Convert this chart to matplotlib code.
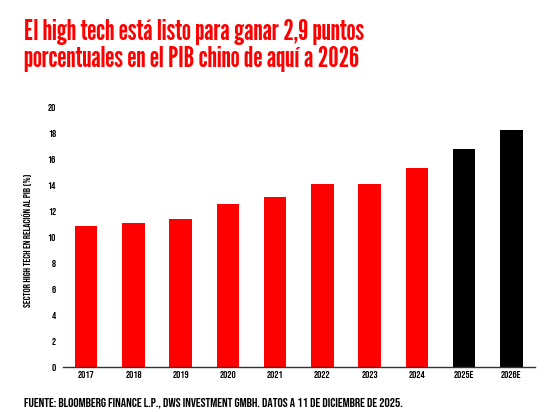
import matplotlib
matplotlib.use("Agg")
import matplotlib.pyplot as plt

# datos
years = ['2017', '2018', '2019', '2020', '2021', '2022', '2023', '2024', '2025E', '2026E']
share_pct = [10.85, 11.05, 11.4, 12.55, 13.05, 14.05, 14.05, 15.3, 16.75, 18.25]
is_estimate = [False] * 8 + [True] * 2
y_ticks = [0, 2, 4, 6, 8, 10, 12, 14, 16, 18, 20]

title_text = "El high tech está listo para ganar 2,9 puntos\nporcentuales en el PIB chino de aquí a 2026"
ylabel_text = "SECTOR HIGH TECH EN RELACIÓN AL PIB (%)"
source_text = "FUENTE: BLOOMBERG FINANCE L.P., DWS INVESTMENT GMBH. DATOS A 11 DE DICIEMBRE DE 2025."

red = '#ff0000'
title_font = ['League Gothic', 'Antonio', 'DejaVu Sans']
label_font = ['Bebas Neue', 'DejaVu Sans']
plt.rcParams['font.family'] = label_font

fig = plt.figure(figsize=(5.45, 4.12), dpi=100)
ax = fig.add_axes([0.1156, 0.109, 0.866, 0.631])

colors = ['#000000' if e else red for e in is_estimate]
x = list(range(len(years)))
ax.bar(x, share_pct, width=0.48, color=colors, zorder=2)

ax.set_xlim(-0.49, 9.5)
ax.set_ylim(0, 20)
ax.set_yticks(y_ticks)
ax.set_xticks(x)
ax.set_xticklabels(years)
ax.tick_params(axis='both', length=0, labelsize=7.5)
ax.tick_params(axis='y', pad=5)
ax.tick_params(axis='x', pad=3)

for side in ['top', 'right', 'left']:
    ax.spines[side].set_visible(False)
ax.spines['bottom'].set_color('#333333')
ax.spines['bottom'].set_linewidth(1.0)

fig.text(0.05, 0.417, ylabel_text, rotation=90, ha='center', va='center',
         fontsize=7.5)

# titulo en fuente condensada
fig.text(0.044, 0.955, title_text, ha='left', va='top', color=red,
         fontsize=21, family=title_font, linespacing=1.08)

fig.text(0.044, 0.010, source_text, ha='left', va='bottom',
         fontsize=9.5)

fig.savefig('out.png', dpi=100)
